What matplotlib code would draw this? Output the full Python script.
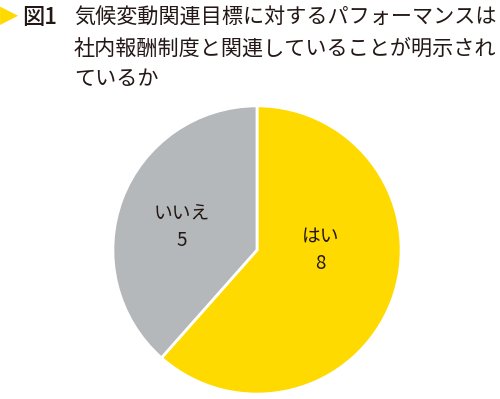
import matplotlib
matplotlib.use("Agg")
import matplotlib.pyplot as plt

plt.rcParams['font.family'] = ['Noto Sans CJK JP', 'DejaVu Sans']

labels = ["はい", "いいえ"]
values = [8, 5]
colors = ["#FFDA00", "#B5B8BA"]
text_color = "#231815"

fig = plt.figure(figsize=(5, 3.99), dpi=100)

# title block
fig.text(0.0, 0.962, "▶", color="#FFDA00", fontsize=17, va="center", ha="left",
         family=['DejaVu Sans'])
fig.text(0.044, 0.955, "図1", color=text_color, fontsize=16, va="center", ha="left",
         fontweight="medium")
title_lines = ["気候変動関連目標に対するパフォーマンスは",
               "社内報酬制度と関連していることが明示され",
               "ているか"]
for i, line in enumerate(title_lines):
    fig.text(0.148, 0.955 - i * 0.077, line, color=text_color, fontsize=15.2,
             va="center", ha="left")

ax = fig.add_axes([0.22, 0.005, 0.588, 0.737])
wedges, _ = ax.pie(values, colors=colors, startangle=90, counterclock=False,
                   radius=1, wedgeprops=dict(edgecolor="white", linewidth=2))
ax.set_xlim(-1.02, 1.02)
ax.set_ylim(-1.02, 1.02)
ax.set_aspect("equal")

label_pos = [(0.44, 0.0), (-0.52, 0.16)]
for (x, y), lab, v in zip(label_pos, labels, values):
    ax.text(x, y, f"{lab}\n{v}", ha="center", va="center", fontsize=13.5,
            color=text_color, linespacing=1.4)

fig.savefig("out.png", dpi=100)
